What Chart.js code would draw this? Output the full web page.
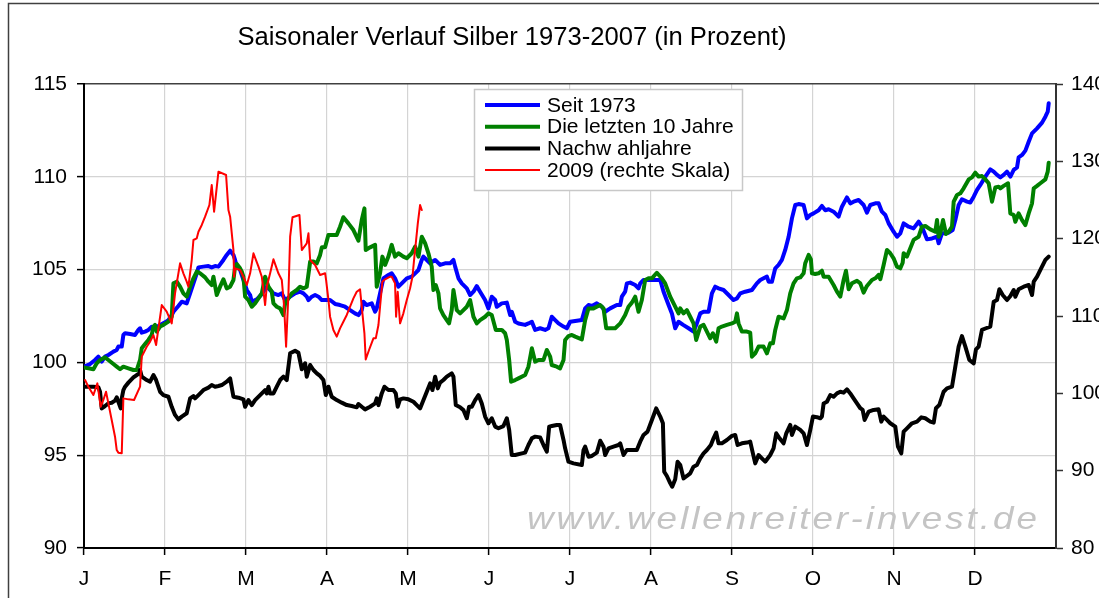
<!DOCTYPE html>
<html>
<head>
<meta charset="utf-8">
<script src="https://cdn.jsdelivr.net/npm/chart.js@4.4.1/dist/chart.umd.min.js"></script>
<style>
html,body{margin:0;padding:0;background:#fff;}
#wrap{width:1099px;height:598px;position:relative;}
</style>
</head>
<body>
<div id="wrap"><canvas id="c" width="1099" height="598"></canvas></div>
<script>
// ---- data (x = month position, 0 = 1 Jan, 12 = 31 Dec) ----
const titleText = 'Saisonaler Verlauf Silber 1973-2007 (in Prozent)';
const monthLabels = ['J','F','M','A','M','J','J','A','S','O','N','D'];
const seriesLabels = ['Seit 1973','Die letzten 10 Jahre','Nachw ahljahre','2009 (rechte Skala)'];
const watermarkText = 'www.wellenreiter-invest.de';
const leftTicks = [90, 95, 100, 105, 110, 115];
const rightTicks = [80, 90, 100, 110, 120, 130, 140];

const seit1973 = [
[0.00,99.77],[0.075,99.91],[0.136,100.13],[0.177,100.31],[0.219,100.04],[0.26,100.31],[0.301,100.4],[0.363,100.58],[0.404,100.67],[0.424,100.85],[0.466,100.85],[0.486,101.48],[0.507,101.57],[0.569,101.53],[0.63,101.48],[0.671,101.75],[0.692,101.84],[0.713,101.6],[0.754,101.66],[0.795,101.75],[0.836,101.92],[0.877,101.84],[0.939,102.02],[1.001,102.16],[1.042,102.28],[1.083,102.55],[1.104,102.73],[1.165,103.04],[1.207,103.27],[1.268,103.18],[1.31,103.72],[1.351,104.26],[1.392,104.8],[1.413,105.12],[1.474,105.16],[1.536,105.19],[1.577,105.12],[1.618,105.19],[1.66,105.16],[1.721,105.52],[1.762,105.79],[1.804,106.02],[1.845,105.79],[1.865,105.52],[1.886,105.19],[1.927,104.98],[1.968,104.44],[2.01,103.9],[2.051,103.63],[2.071,103.27],[2.133,103.4],[2.174,103.58],[2.215,103.81],[2.256,104.08],[2.298,103.9],[2.339,103.72],[2.4,103.63],[2.442,103.72],[2.483,103.36],[2.545,103.54],[2.606,103.72],[2.668,103.81],[2.709,103.72],[2.75,103.54],[2.771,103.36],[2.812,103.54],[2.853,103.63],[2.895,103.54],[2.936,103.36],[2.998,103.36],
[3.038,103.36],[3.1,103.15],[3.161,103.09],[3.223,103.0],[3.285,102.82],[3.346,102.64],[3.388,102.55],[3.429,102.82],[3.449,103.27],[3.49,103.09],[3.552,103.18],[3.594,102.73],[3.614,102.91],[3.655,103.72],[3.696,104.53],[3.758,104.71],[3.799,104.8],[3.84,104.53],[3.882,104.08],[3.923,104.26],[3.985,104.53],[4.046,104.62],[4.088,104.8],[4.129,104.98],[4.17,105.52],[4.19,105.7],[4.232,105.52],[4.273,105.34],[4.335,105.52],[4.396,105.25],[4.458,105.34],[4.52,105.34],[4.561,105.52],[4.582,105.16],[4.623,104.53],[4.664,104.26],[4.726,103.99],[4.767,103.63],[4.808,103.81],[4.849,104.11],[4.89,103.81],[4.952,103.36],[4.993,102.91],[5.034,103.54],[5.076,103.36],[5.096,103.0],[5.158,103.18],[5.22,103.22],[5.261,102.55],[5.281,102.73],[5.323,102.19],[5.364,102.1],[5.446,102.02],[5.487,102.1],[5.529,102.19],[5.57,101.75],[5.631,101.84],[5.693,101.75],[5.734,101.84],[5.775,102.46],[5.817,102.28],[5.858,102.1],[5.92,101.93],[5.961,101.84],[6.002,102.19],
[6.146,102.28],[6.187,102.91],[6.228,103.09],[6.27,103.04],[6.331,103.18],[6.393,103.0],[6.434,102.73],[6.496,102.91],[6.578,103.09],[6.62,103.09],[6.64,103.54],[6.681,103.81],[6.702,104.26],[6.743,104.3],[6.805,104.17],[6.846,103.99],[6.867,104.26],[6.908,104.44],[6.99,104.44],[7.073,104.44],[7.114,104.44],[7.155,103.81],[7.217,103.09],[7.258,102.64],[7.299,101.84],[7.34,102.19],[7.402,102.01],[7.464,101.84],[7.525,101.66],[7.566,102.1],[7.608,102.64],[7.649,102.73],[7.711,102.73],[7.752,103.72],[7.793,104.08],[7.834,103.99],[7.896,103.9],[7.958,103.63],[8.019,103.36],[8.061,103.45],[8.102,103.72],[8.163,103.81],[8.246,103.9],[8.307,104.26],[8.349,104.44],[8.39,104.53],[8.431,104.62],[8.452,104.35],[8.493,104.35],[8.534,105.07],[8.575,105.25],[8.616,105.52],[8.657,106.06],[8.699,106.77],[8.74,107.76],[8.781,108.48],[8.822,108.53],[8.884,108.48],[8.925,107.76],[8.966,107.94],[9.007,108.03],
[9.069,108.2],[9.11,108.43],[9.152,108.2],[9.193,108.25],[9.254,108.12],[9.316,107.85],[9.357,108.39],[9.419,108.89],[9.46,108.57],[9.501,108.66],[9.563,108.75],[9.625,108.48],[9.666,108.07],[9.707,108.48],[9.769,108.57],[9.81,108.57],[9.851,108.12],[9.893,107.94],[9.934,107.49],[9.995,107.04],[10.037,106.77],[10.078,106.95],[10.119,107.49],[10.181,107.31],[10.242,107.22],[10.304,107.58],[10.345,107.31],[10.407,106.63],[10.469,106.68],[10.531,106.77],[10.551,106.42],[10.592,106.95],[10.675,106.99],[10.724,107.13],[10.757,107.67],[10.798,108.48],[10.839,108.79],[10.901,108.66],[10.942,108.61],[10.984,108.93],[11.025,109.29],[11.066,109.56],[11.128,110.01],[11.189,110.4],[11.231,110.28],[11.272,110.1],[11.313,109.97],[11.354,110.1],[11.395,110.28],[11.437,110.01],[11.478,110.37],[11.519,110.51],[11.539,111.05],[11.581,111.18],[11.622,111.41],[11.663,111.89],[11.704,112.34],[11.766,112.61],[11.828,112.92],[11.869,113.24],[11.898,113.51],[11.91,113.96]
];

const letzte10 = [
[0.0,99.73],[0.054,99.68],[0.116,99.63],[0.157,99.95],[0.198,100.13],[0.26,100.27],[0.301,100.13],[0.363,99.91],[0.404,99.77],[0.445,99.63],[0.486,99.77],[0.548,99.68],[0.61,99.59],[0.651,99.59],[0.692,100.13],[0.713,100.76],[0.754,100.99],[0.795,101.21],[0.836,101.48],[0.857,101.93],[0.877,102.02],[0.898,101.66],[0.939,101.93],[0.98,102.02],[1.042,102.2],[1.083,102.46],[1.104,104.26],[1.145,104.35],[1.186,104.08],[1.227,103.72],[1.268,103.54],[1.31,104.08],[1.351,104.53],[1.392,104.89],[1.433,104.8],[1.495,104.58],[1.536,104.35],[1.577,104.17],[1.598,104.62],[1.639,103.63],[1.68,104.08],[1.721,104.48],[1.762,103.99],[1.804,104.08],[1.845,104.44],[1.865,105.16],[1.886,105.3],[1.927,105.07],[1.948,104.89],[1.968,104.62],[1.989,103.54],[2.03,103.36],[2.071,103.0],[2.112,103.18],[2.154,103.45],[2.195,103.72],[2.236,104.62],[2.277,104.08],[2.318,103.81],[2.339,103.18],[2.38,103.0],[2.421,102.91],[2.462,102.55],[2.483,103.18],[2.524,103.45],[2.565,103.72],[2.627,103.9],[2.668,104.08],[2.709,103.99],[2.75,104.08],[2.792,105.43],[2.833,105.43],[2.874,105.34],[2.915,105.79],[2.936,106.2],[2.976,106.2],
[3.017,106.86],[3.079,106.86],[3.12,106.86],[3.161,107.31],[3.202,107.82],[3.264,107.49],[3.326,107.13],[3.388,106.56],[3.429,107.67],[3.462,108.3],[3.478,106.06],[3.532,106.2],[3.594,106.33],[3.614,104.08],[3.655,104.8],[3.684,105.7],[3.717,105.25],[3.758,105.7],[3.799,106.33],[3.84,105.7],[3.882,105.88],[3.943,105.7],[3.985,105.61],[4.046,105.88],[4.088,106.24],[4.129,105.7],[4.17,106.77],[4.211,106.42],[4.252,105.88],[4.293,105.16],[4.314,103.9],[4.343,104.17],[4.376,103.72],[4.396,102.91],[4.437,102.55],[4.479,102.28],[4.507,102.1],[4.54,102.82],[4.561,103.9],[4.602,102.82],[4.643,102.64],[4.684,102.82],[4.726,103.0],[4.767,103.36],[4.808,102.46],[4.849,102.1],[4.89,102.28],[4.952,102.46],[4.993,102.64],[5.034,102.55],[5.084,101.75],[5.158,101.75],[5.199,101.57],[5.22,101.21],[5.249,100.13],[5.273,98.96],[5.323,99.05],[5.364,99.14],[5.446,99.32],[5.487,99.77],[5.529,100.76],[5.57,100.04],[5.611,100.13],[5.673,100.13],[5.714,100.67],[5.755,100.31],[5.775,99.86],[5.837,99.77],[5.878,99.68],[5.92,100.13],[5.94,101.21],[5.981,101.42],[6.023,101.48],
[6.064,101.39],[6.146,101.24],[6.187,102.28],[6.228,102.91],[6.29,102.91],[6.331,103.0],[6.373,103.09],[6.414,102.91],[6.447,101.84],[6.496,101.84],[6.558,101.84],[6.62,102.1],[6.681,102.55],[6.722,103.0],[6.764,103.22],[6.805,103.54],[6.846,102.73],[6.887,103.36],[6.928,104.44],[6.969,104.53],[7.011,104.53],[7.072,104.83],[7.134,104.53],[7.175,104.26],[7.237,103.54],[7.299,103.0],[7.34,102.64],[7.361,102.91],[7.402,102.64],[7.443,102.82],[7.484,102.46],[7.525,102.1],[7.558,101.21],[7.608,101.93],[7.649,102.02],[7.69,101.66],[7.731,101.3],[7.764,101.57],[7.805,101.12],[7.834,101.84],[7.875,101.93],[7.937,102.02],[7.999,102.1],[8.04,102.19],[8.061,102.64],[8.081,102.1],[8.122,101.66],[8.184,101.66],[8.225,101.6],[8.246,100.31],[8.287,100.49],[8.328,100.85],[8.39,100.85],[8.431,100.49],[8.472,101.03],[8.505,101.03],[8.534,101.75],[8.575,102.46],[8.637,102.37],[8.678,102.82],[8.719,103.72],[8.76,104.26],[8.801,104.53],[8.843,104.58],[8.884,104.8],[8.904,105.34],[8.946,105.79],[8.974,105.55],[8.987,104.8],[9.028,104.76],
[9.069,104.8],[9.11,104.94],[9.131,104.62],[9.193,104.62],[9.254,104.17],[9.296,103.81],[9.337,103.54],[9.378,104.44],[9.407,104.94],[9.44,103.94],[9.481,104.26],[9.543,104.4],[9.584,104.26],[9.625,103.76],[9.666,104.12],[9.728,104.44],[9.769,104.53],[9.81,104.71],[9.831,104.48],[9.872,105.25],[9.913,106.06],[9.954,105.88],[9.995,105.61],[10.037,105.16],[10.078,105.07],[10.107,105.37],[10.119,105.88],[10.16,105.7],[10.201,106.15],[10.242,106.6],[10.304,106.77],[10.345,107.31],[10.387,107.35],[10.448,107.17],[10.51,107.04],[10.531,107.67],[10.551,106.77],[10.572,106.95],[10.605,107.67],[10.642,106.92],[10.675,107.04],[10.716,107.31],[10.737,108.66],[10.778,109.02],[10.819,109.11],[10.86,109.38],[10.922,109.86],[10.963,109.97],[11.004,110.22],[11.045,110.01],[11.086,110.04],[11.128,109.86],[11.169,109.65],[11.21,108.66],[11.251,109.43],[11.292,109.47],[11.313,109.38],[11.354,109.51],[11.408,109.65],[11.436,108.03],[11.478,107.94],[11.498,107.58],[11.539,108.03],[11.581,107.67],[11.622,107.4],[11.663,108.03],[11.704,108.57],[11.725,109.38],[11.766,109.51],[11.807,109.65],[11.869,109.86],[11.898,110.28],[11.91,110.76]
];

const wahljahre = [
[0.0,98.69],[0.054,98.69],[0.116,98.69],[0.177,98.66],[0.198,98.42],[0.219,97.52],[0.26,97.65],[0.301,97.79],[0.342,97.83],[0.383,97.94],[0.404,98.12],[0.424,97.88],[0.453,97.52],[0.466,98.06],[0.486,98.51],[0.507,98.69],[0.548,98.91],[0.61,99.19],[0.651,99.32],[0.684,99.41],[0.692,99.59],[0.713,99.23],[0.774,99.05],[0.816,98.96],[0.857,99.32],[0.89,99.05],[0.939,98.42],[0.98,98.24],[1.042,98.15],[1.083,97.61],[1.124,97.17],[1.165,96.93],[1.207,97.08],[1.268,97.26],[1.31,98.06],[1.351,98.19],[1.371,98.06],[1.413,98.24],[1.474,98.51],[1.536,98.64],[1.577,98.78],[1.618,98.69],[1.66,98.73],[1.701,98.78],[1.762,98.96],[1.804,99.14],[1.845,98.15],[1.907,98.1],[1.968,98.01],[1.989,97.61],[2.03,97.97],[2.071,97.7],[2.112,97.97],[2.174,98.24],[2.236,98.51],[2.256,98.33],[2.277,98.69],[2.298,98.33],[2.339,98.33],[2.38,98.69],[2.421,99.05],[2.462,99.23],[2.503,99.05],[2.545,100.49],[2.606,100.63],[2.647,100.52],[2.689,99.63],[2.73,99.95],[2.75,99.23],[2.792,99.86],[2.833,99.59],[2.874,99.41],[2.915,99.27],[2.956,99.05],[2.985,98.24],[3.018,98.69],
[3.058,98.15],[3.12,97.97],[3.182,97.83],[3.244,97.7],[3.305,97.65],[3.367,97.58],[3.388,97.76],[3.429,97.61],[3.47,97.47],[3.532,97.61],[3.594,97.79],[3.614,98.06],[3.635,97.7],[3.676,98.33],[3.709,98.69],[3.758,98.51],[3.82,98.51],[3.849,98.33],[3.873,97.61],[3.902,98.01],[3.943,98.06],[4.005,98.01],[4.067,97.88],[4.108,97.7],[4.149,97.52],[4.191,97.97],[4.232,98.42],[4.273,98.87],[4.302,98.51],[4.335,99.23],[4.368,98.6],[4.396,98.91],[4.437,99.05],[4.479,99.23],[4.54,99.41],[4.561,99.23],[4.59,97.7],[4.643,97.58],[4.684,97.43],[4.726,96.99],[4.754,97.61],[4.787,97.61],[4.829,97.97],[4.87,98.24],[4.911,97.79],[4.952,97.08],[4.993,96.72],[5.034,96.99],[5.076,96.54],[5.117,96.45],[5.178,96.57],[5.22,96.99],[5.249,96.36],[5.281,95.01],[5.323,95.01],[5.405,95.1],[5.446,95.14],[5.487,95.55],[5.529,95.91],[5.57,96.0],[5.631,95.96],[5.673,95.55],[5.714,95.19],[5.743,96.54],[5.775,96.57],[5.837,96.63],[5.878,96.63],[5.92,95.82],[5.94,95.37],[5.981,94.65],[6.043,94.56],
[6.146,94.47],[6.167,95.28],[6.187,95.46],[6.228,94.92],[6.27,94.96],[6.331,95.14],[6.373,95.78],[6.414,95.46],[6.434,95.01],[6.475,95.37],[6.537,95.46],[6.599,95.55],[6.62,95.64],[6.661,95.01],[6.702,95.28],[6.825,95.28],[6.867,95.73],[6.908,96.09],[6.957,96.27],[7.011,96.9],[7.064,97.52],[7.114,97.08],[7.147,96.72],[7.163,94.11],[7.196,93.88],[7.237,93.5],[7.262,93.3],[7.299,93.7],[7.328,94.65],[7.361,94.47],[7.402,93.75],[7.443,93.88],[7.484,94.02],[7.525,94.38],[7.566,94.47],[7.608,94.83],[7.649,95.1],[7.69,95.28],[7.739,95.55],[7.772,95.91],[7.805,96.22],[7.834,95.64],[7.875,95.64],[7.937,95.82],[7.999,96.04],[8.04,96.09],[8.069,95.55],[8.122,95.64],[8.184,95.68],[8.225,95.73],[8.258,95.1],[8.287,94.56],[8.328,95.01],[8.369,94.83],[8.41,94.65],[8.472,95.01],[8.513,95.37],[8.546,96.18],[8.587,95.91],[8.637,95.64],[8.67,96.18],[8.719,96.63],[8.74,96.09],[8.781,96.54],[8.843,96.36],[8.884,96.18],[8.925,95.55],[8.966,96.36],[8.999,97.08],[9.048,97.05],
[9.09,96.99],[9.11,97.08],[9.131,97.79],[9.172,97.88],[9.213,98.24],[9.254,98.15],[9.296,98.33],[9.337,98.42],[9.378,98.37],[9.419,98.55],[9.46,98.33],[9.501,98.06],[9.543,97.79],[9.584,97.53],[9.613,97.44],[9.637,96.9],[9.687,97.35],[9.748,97.44],[9.81,97.47],[9.843,96.81],[9.872,97.08],[9.913,96.9],[9.954,96.72],[10.016,96.54],[10.049,95.46],[10.09,95.1],[10.119,96.27],[10.16,96.45],[10.222,96.72],[10.284,96.81],[10.337,97.04],[10.386,96.99],[10.448,96.81],[10.49,96.75],[10.518,97.53],[10.56,97.71],[10.613,98.42],[10.654,98.6],[10.716,98.69],[10.757,99.77],[10.798,100.85],[10.839,101.42],[10.881,100.85],[10.93,100.13],[10.984,99.95],[11.012,100.7],[11.045,100.85],[11.086,101.75],[11.136,101.84],[11.189,101.93],[11.231,103.27],[11.272,103.36],[11.301,103.94],[11.342,103.63],[11.395,103.36],[11.437,103.58],[11.478,103.9],[11.498,103.54],[11.539,103.94],[11.601,104.08],[11.663,104.17],[11.704,103.63],[11.725,104.35],[11.766,104.62],[11.807,104.98],[11.869,105.52],[11.91,105.7]
];

const jahr2009 = [
[0.013,101.72],[0.054,100.86],[0.116,99.78],[0.165,101.29],[0.206,98.27],[0.239,99.14],[0.272,100.21],[0.301,98.7],[0.342,96.55],[0.383,94.39],[0.404,92.67],[0.424,92.33],[0.466,92.24],[0.486,99.35],[0.548,99.22],[0.618,99.14],[0.692,100.86],[0.713,104.74],[0.774,106.03],[0.816,106.68],[0.857,107.54],[0.89,106.25],[0.919,108.4],[0.96,111.42],[1.021,110.56],[1.083,109.05],[1.124,112.93],[1.186,116.81],[1.227,115.52],[1.268,114.44],[1.289,113.79],[1.33,117.24],[1.351,119.83],[1.392,120.04],[1.413,120.9],[1.454,121.77],[1.495,122.84],[1.548,124.35],[1.577,126.94],[1.606,123.49],[1.66,128.66],[1.754,128.23],[1.783,123.7],[1.804,122.84],[1.845,118.53],[1.853,115.08],[1.865,116.16],[1.927,115.95],[1.968,115.08],[2.01,114.01],[2.051,115.52],[2.092,118.1],[2.154,116.38],[2.195,115.08],[2.236,111.42],[2.256,113.79],[2.298,115.52],[2.339,117.33],[2.4,115.52],[2.442,114.65],[2.471,111.2],[2.495,106.03],[2.524,112.93],[2.545,120.26],[2.574,122.76],[2.66,123.06],[2.689,118.53],[2.75,119.39],[2.771,120.69],[2.792,117.24],[2.853,116.59],[2.915,115.3],[2.977,115.52],[2.989,114.65],[3.018,112.06],
[3.038,109.91],[3.079,108.19],[3.12,107.33],[3.161,108.4],[3.202,109.26],[3.244,110.13],[3.285,111.2],[3.326,112.28],[3.367,113.14],[3.408,113.45],[3.429,111.2],[3.462,107.76],[3.478,104.39],[3.519,105.6],[3.573,107.11],[3.602,107.11],[3.635,108.84],[3.655,111.2],[3.684,114.44],[3.717,114.74],[3.779,115.08],[3.799,115.08],[3.84,114.22],[3.853,109.91],[3.873,113.14],[3.902,109.05],[3.943,110.34],[3.985,112.06],[4.026,113.58],[4.055,115.08],[4.079,117.67],[4.096,119.39],[4.121,121.98],[4.149,124.35],[4.17,123.7]
];

const colors = ['#0000ff', '#008000', '#000000', '#ff0000'];
const widths = [4, 4, 4, 2];

const FONT = "'Liberation Sans', Arial, sans-serif";
const toXY = arr => arr.map(p => ({x: p[0], y: p[1]}));

const framePlugin = {
  id: 'frame',
  beforeDraw(chart) {
    const ctx = chart.ctx;
    ctx.save();
    ctx.fillStyle = '#fff';
    ctx.fillRect(0, 0, chart.width, chart.height);
    ctx.strokeStyle = '#404040';
    ctx.lineWidth = 1.5;
    ctx.strokeRect(8.5, 3.5, 1200, 700);
    ctx.restore();
  },
  beforeDatasetsDraw(chart) {
    const ctx = chart.ctx;
    const a = chart.chartArea;
    ctx.save();
    ctx.font = "italic 32px " + FONT;
    ctx.fillStyle = '#c4c4c4';
    ctx.textBaseline = 'alphabetic';
    const target = 510, sx = 1.15;
    const w = ctx.measureText(watermarkText).width;
    ctx.translate(a.left + 443, 529);
    ctx.scale(sx, 1);
    if ('letterSpacing' in ctx) {
      const sp = Math.max(0, (target / sx - w) / (watermarkText.length - 1));
      ctx.letterSpacing = sp + 'px';
      ctx.fillText(watermarkText, 0, 0);
    } else {
      ctx.scale(target / (w * sx), 1);
      ctx.fillText(watermarkText, 0, 0);
    }
    ctx.restore();
  },
  afterDraw(chart) {
    const ctx = chart.ctx;
    ctx.save();
    // title
    ctx.font = "25.6px " + FONT;
    ctx.fillStyle = '#000';
    ctx.textAlign = 'center';
    ctx.textBaseline = 'alphabetic';
    ctx.fillText(titleText, 512, 45);
    // legend
    const bx = 474, by = 89, bw = 268, bh = 101;
    ctx.fillStyle = '#fff';
    ctx.fillRect(bx, by, bw, bh);
    ctx.strokeStyle = '#c8c8c8';
    ctx.lineWidth = 1.5;
    ctx.strokeRect(bx + 0.5, by + 0.5, bw, bh);
    ctx.font = "21px " + FONT;
    ctx.textAlign = 'left';
    ctx.textBaseline = 'middle';
    chart.data.datasets.forEach((ds, i) => {
      const yy = 105 + i * 21.7;
      ctx.strokeStyle = ds.borderColor;
      ctx.lineWidth = ds.borderWidth;
      ctx.beginPath();
      ctx.moveTo(485, yy);
      ctx.lineTo(540, yy);
      ctx.stroke();
      ctx.fillStyle = '#000';
      ctx.fillText(ds.label, 547, yy + 1);
    });
    ctx.restore();
  }
};

new Chart(document.getElementById('c'), {
  type: 'line',
  data: {
    datasets: [
      {label: seriesLabels[0], data: toXY(seit1973), yAxisID: 'y', order: 3},
      {label: seriesLabels[1], data: toXY(letzte10), yAxisID: 'y', order: 2},
      {label: seriesLabels[2], data: toXY(wahljahre), yAxisID: 'y', order: 1},
      {label: seriesLabels[3], data: toXY(jahr2009), yAxisID: 'y2', order: 0}
    ].map((d, i) => Object.assign(d, {
      borderColor: colors[i], backgroundColor: colors[i], borderWidth: widths[i],
      pointRadius: 0, tension: 0, fill: false, borderJoinStyle: 'round', borderCapStyle: 'round'
    }))
  },
  options: {
    responsive: false,
    animation: false,
    events: [],
    layout: {padding: {top: 84, left: 0, right: 0, bottom: 0}},
    plugins: {legend: {display: false}, title: {display: false}, tooltip: {enabled: false}},
    scales: {
      x: {
        type: 'linear', min: 0, max: 12,
        afterFit(s) { s.height = 50; },
        afterBuildTicks(s) { s.ticks = monthLabels.map((m, i) => ({value: i})).concat([{value: 12}]); },
        ticks: {
          autoSkip: false, maxRotation: 0, padding: 12,
          font: {family: FONT, size: 21}, color: '#000',
          callback: v => (monthLabels[v] !== undefined ? monthLabels[v] : '')
        },
        grid: {
          color: c => (c.tick && (c.tick.value === 0 || c.tick.value === 12)) ? 'rgba(0,0,0,0)' : '#d4d4d4',
          lineWidth: 1.2, tickLength: 7,
          tickColor: c => (c.tick && c.tick.value === 12) ? 'rgba(0,0,0,0)' : '#000',
          tickWidth: 1.5
        },
        border: {display: true, color: '#000', width: 2}
      },
      y: {
        position: 'left', min: 90, max: 115,
        afterFit(s) { s.width = 84; },
        afterBuildTicks(s) { s.ticks = leftTicks.map(v => ({value: v})); },
        ticks: {font: {family: FONT, size: 21}, color: '#000', padding: 10},
        grid: {
          color: c => (c.tick && c.tick.value === 115) ? '#404040' : (c.tick && c.tick.value === 90 ? 'rgba(0,0,0,0)' : '#d4d4d4'),
          lineWidth: c => (c.tick && c.tick.value === 115) ? 1.5 : 1.2,
          tickLength: 7, tickColor: '#000', tickWidth: 1.5
        },
        border: {display: true, color: '#000', width: 2}
      },
      y2: {
        position: 'right', min: 80, max: 140,
        afterFit(s) { s.width = 43; },
        afterBuildTicks(s) { s.ticks = rightTicks.map(v => ({value: v})); },
        ticks: {font: {family: FONT, size: 21}, color: '#000', padding: 8},
        grid: {drawOnChartArea: false, tickLength: 7, tickColor: '#333', tickWidth: 1.5},
        border: {display: true, color: '#333', width: 2}
      }
    }
  },
  plugins: [framePlugin]
});
</script>
</body>
</html>
